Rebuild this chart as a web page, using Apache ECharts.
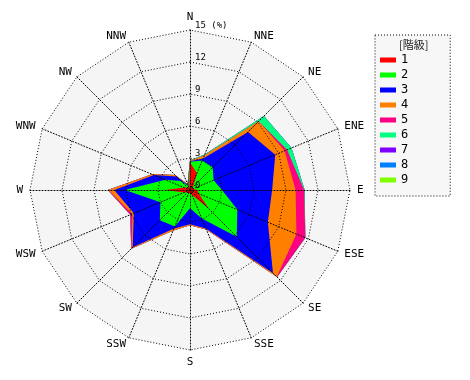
<!DOCTYPE html>
<html><head><meta charset="utf-8">
<script src="https://cdn.jsdelivr.net/npm/echarts@6/dist/echarts.min.js"></script>
<style>html,body{margin:0;padding:0;background:#fff}#c{width:470px;height:380px}</style>
</head><body><div id="c"></div>
<script>
// Directions, clockwise from north
const directions = ['N','NNE','NE','ENE','E','ESE','SE','SSE','S','SSW','SW','WSW','W','WNW','NW','NNW'];
const levels = ['1','2','3','4','5','6','7','8','9'];
const levelColors = ['#ff0000','#00ff00','#0000ff','#ff8000','#ff0080','#00ff80','#8000ff','#0080ff','#80ff00'];
const radialMax = 15;
const radialInterval = 3;
// frequency (%) of each class, by direction (clockwise from N)
const level1 = [2.6, 1.7, 0.4, 0.3, 0.7, 0.9, 2.5, 0.5, 0.3, 0.3, 0.3, 0.6, 2.3, 0.6, 0.3, 0.2];
const level2 = [0.05, 1.3, 2.6, 2.1, 2.3, 3.9, 3.7, 2.4, 1.4, 3.4, 3.7, 2.4, 3.8, 1.9, 0.9, 0.2];
const level3 = [0.05, 0.2, 4.7, 6.25, 4.7, 3.1, 4.8, 1.0, 1.5, 0.2, 3.6, 2.7, 1.0, 1.15, 0.6, 0.1];
const level4 = [0.05, 0.3, 1.4, 0.95, 2.2, 2.9, 0.5, 0.1, 0.1, 0.2, 0.15, 0.15, 0.55, 0.2, 0.2, 0.1];
const level5 = [0, 0, 0, 0.25, 0.8, 0.9, 0.05, 0, 0, 0, 0.05, 0.2, 0.05, 0, 0, 0];
const level6 = [0.05, 0.1, 0.7, 0.45, 0.05, 0, 0, 0, 0, 0, 0, 0, 0, 0, 0, 0];
const level7 = [0, 0, 0, 0, 0, 0, 0, 0, 0, 0, 0, 0, 0, 0, 0, 0];
const level8 = [0, 0, 0, 0, 0, 0, 0, 0, 0, 0, 0, 0, 0, 0, 0, 0];
const level9 = [0, 0, 0, 0, 0, 0, 0, 0, 0, 0, 0, 0, 0, 0, 0, 0];
const levelData = [level1, level2, level3, level4, level5, level6, level7, level8, level9];

// radar indicators run counter-clockwise in ECharts: reorder so N is on top and E on the right
const order = directions.map((d, i) => (directions.length - i) % directions.length);
const indicator = order.map(i => ({ name: directions[i], min: 0, max: radialMax }));

// cumulative (stacked) values per class
const cumulative = [];
levelData.forEach((arr, li) => {
  cumulative.push(arr.map((v, di) => v + (li > 0 ? cumulative[li - 1][di] : 0)));
});

const FONT = 'DejaVu Sans Mono';
const dotted = { color: '#000', width: 1, type: [1, 2] };
const radarBase = {
  center: [190, 190], radius: 160, startAngle: 90, shape: 'polygon',
  splitNumber: radialMax / radialInterval, indicator: indicator,
  axisTick: { show: false }, axisLabel: { show: false }
};

const series = [];
for (let li = levels.length - 1; li >= 0; li--) {
  series.push({
    type: 'radar', name: levels[li], radarIndex: 0, z: 2,
    symbol: 'none', silent: true,
    itemStyle: { color: levelColors[li] },
    lineStyle: { width: 0, opacity: 0 },
    areaStyle: { color: levelColors[li], opacity: 1 },
    data: [{ value: order.map(i => cumulative[li][i]), name: levels[li] }]
  });
}

const chart = echarts.init(document.getElementById('c'), null, { renderer: 'canvas' });
chart.setOption({
  animation: false,
  backgroundColor: '#fff',
  title: {
    text: '[階級]', left: 399, top: 39, padding: 0, z: 10,
    textStyle: { fontSize: 11, fontWeight: 'normal', color: '#222', fontFamily: 'Noto Sans CJK JP' }
  },
  legend: {
    data: levels.map(n => ({ name: n, icon: 'rect', itemStyle: { color: levelColors[levels.indexOf(n)] } })),
    orient: 'vertical', left: 375, top: 35,
    padding: [19, 42, 10, 5], itemWidth: 16, itemHeight: 5, itemGap: 3,
    selectedMode: false,
    backgroundColor: '#f7f7f7', borderColor: '#000', borderWidth: 1, borderType: [1, 2],
    textStyle: { fontSize: 12, color: '#000', fontFamily: FONT }
  },
  radar: [
    Object.assign({}, radarBase, {
      z: 0,
      axisName: { show: false },
      splitLine: { show: false },
      axisLine: { show: false },
      splitArea: { show: true, areaStyle: { color: ['#f5f5f5'] } }
    }),
    Object.assign({}, radarBase, {
      z: 5, nameGap: 7,
      axisName: { show: true, color: '#000', fontSize: 11, fontFamily: FONT },
      splitLine: { show: true, lineStyle: dotted },
      axisLine: { show: true, lineStyle: dotted },
      splitArea: { show: false }
    })
  ],
  polar: { center: [190, 190], radius: 160 },
  angleAxis: { type: 'value', min: 0, max: 360, startAngle: 90, show: false },
  radiusAxis: {
    type: 'value', min: 0, max: radialMax, interval: radialInterval, z: 10,
    axisLine: { show: false }, axisTick: { show: false }, splitLine: { show: false },
    axisLabel: {
      show: true, margin: -5, align: 'left', verticalAlign: 'bottom',
      fontSize: 9, color: '#000', fontFamily: FONT,
      formatter: v => (v === radialMax ? v + ' (%)' : String(v))
    }
  },
  series: series
});
</script></body></html>
